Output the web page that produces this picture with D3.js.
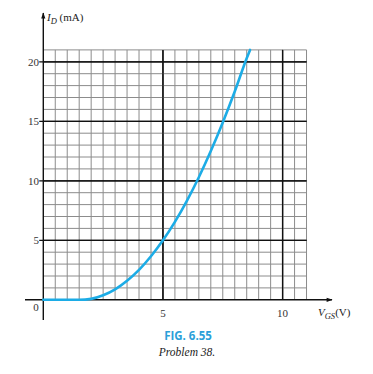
<!DOCTYPE html>
<html>
<head>
<meta charset="utf-8">
<script src="https://cdn.jsdelivr.net/npm/d3@7"></script>
<style>
  html, body { margin: 0; padding: 0; background: #fff; }
  svg { display: block; }
</style>
</head>
<body>
<svg id="chart" width="373" height="374"></svg>
<script>
// Transfer curve
const vgs = [0, 1, 1.5, 2, 2.5, 3, 3.5, 4, 4.5, 5, 5.5, 6, 6.5, 7, 7.5, 8, 8.5, 8.64];
const idMA = [0, 0, 0, 0.08, 0.38, 0.88, 1.6, 2.52, 3.66, 5.0, 6.55, 8.32, 10.3, 12.5, 14.9, 17.5, 20.3, 21];
const xTicks = [5, 10];
const yTicks = [5, 10, 15, 20];
const xGrid = d3.range(0.5, 11.01, 0.5);
const yGrid = d3.range(1, 21.01, 1);

const svg = d3.select("#chart");
const x = d3.scaleLinear().domain([0, 10]).range([43.3, 282.6]);
const y = d3.scaleLinear().domain([0, 20]).range([299.8, 61.8]);

const serif = "'Liberation Serif', 'DejaVu Serif', serif";

// grid
const g = svg.append("g");
g.selectAll("line.vx").data(xGrid).join("line")
  .attr("x1", d => x(d)).attr("x2", d => x(d))
  .attr("y1", y(0)).attr("y2", y(21))
  .attr("stroke", d => (d % 5 === 0) ? "#111" : "#8c8c8c")
  .attr("stroke-width", d => (d % 5 === 0) ? 1.3 : 1);
g.selectAll("line.hy").data(yGrid).join("line")
  .attr("x1", x(0)).attr("x2", x(11))
  .attr("y1", d => y(d)).attr("y2", d => y(d))
  .attr("stroke", d => (d % 5 === 0) ? "#111" : "#8c8c8c")
  .attr("stroke-width", d => (d % 5 === 0) ? 1.3 : 1);
// re-draw major lines on top
g.selectAll("line.mx").data(xTicks).join("line")
  .attr("x1", d => x(d)).attr("x2", d => x(d))
  .attr("y1", y(0)).attr("y2", y(21))
  .attr("stroke", "#111").attr("stroke-width", 1.3);
g.selectAll("line.my").data(yTicks).join("line")
  .attr("x1", x(-0.17)).attr("x2", x(11))
  .attr("y1", d => y(d)).attr("y2", d => y(d))
  .attr("stroke", "#111").attr("stroke-width", 1.3);

// axes
svg.append("defs").append("marker")
  .attr("id", "arr").attr("viewBox", "0 0 10 10").attr("refX", 9).attr("refY", 5)
  .attr("markerWidth", 7).attr("markerHeight", 6).attr("orient", "auto-start-reverse")
  .attr("markerUnits", "userSpaceOnUse")
  .append("path").attr("d", "M0,1.5 L10,5 L0,8.5 Z").attr("fill", "#111");

svg.append("line")
  .attr("x1", 25).attr("x2", 332).attr("y1", y(0)).attr("y2", y(0))
  .attr("stroke", "#111").attr("stroke-width", 1.4).attr("marker-end", "url(#arr)");
svg.append("line")
  .attr("x1", x(0)).attr("x2", x(0)).attr("y1", 320).attr("y2", 13)
  .attr("stroke", "#111").attr("stroke-width", 1.4).attr("marker-end", "url(#arr)");

// tick labels
svg.selectAll("text.yt").data(yTicks).join("text")
  .attr("x", 39).attr("y", d => y(d) + 3.8)
  .attr("text-anchor", "end")
  .attr("font-family", serif).attr("font-size", 11).attr("fill", "#333")
  .text(d => d);
svg.selectAll("text.xt").data(xTicks).join("text")
  .attr("x", d => x(d)).attr("y", 316.5)
  .attr("text-anchor", "middle")
  .attr("font-family", serif).attr("font-size", 11).attr("fill", "#333")
  .text(d => d);
svg.append("text").attr("x", 36).attr("y", 310.5)
  .attr("text-anchor", "middle")
  .attr("font-family", serif).attr("font-size", 11).attr("fill", "#333").text("0");

// axis titles
const yl = svg.append("text").attr("x", 47).attr("y", 21)
  .attr("font-family", serif).attr("font-size", 11).attr("fill", "#222");
yl.append("tspan").attr("font-style", "italic").text("I");
yl.append("tspan").attr("font-style", "italic").attr("font-size", 8.5).attr("dy", 2.5).text("D");
yl.append("tspan").attr("dy", -2.5).text(" (mA)");

const xl = svg.append("text").attr("x", 318).attr("y", 316)
  .attr("font-family", serif).attr("font-size", 11).attr("fill", "#222");
xl.append("tspan").attr("font-style", "italic").text("V");
xl.append("tspan").attr("font-style", "italic").attr("font-size", 8.5).attr("dy", 2.5).text("GS");
xl.append("tspan").attr("dy", -2.5).text("(V)");

// curve
const line = d3.line().x((d, i) => x(d)).y((d, i) => y(idMA[i])).curve(d3.curveMonotoneX);
svg.append("path").datum(vgs)
  .attr("d", line)
  .attr("fill", "none").attr("stroke", "#1cace6").attr("stroke-width", 2.6)
  .attr("stroke-linecap", "round");

// caption
svg.append("text").attr("x", 188).attr("y", 340).attr("text-anchor", "middle")
  .attr("font-family", "'Open Sans', 'Liberation Sans', sans-serif").attr("font-weight", "bold")
  .attr("font-size", 11.5).attr("fill", "#2b9fd9").text("FIG. 6.55");
svg.append("text").attr("x", 187).attr("y", 356).attr("text-anchor", "middle")
  .attr("font-family", serif).attr("font-style", "italic")
  .attr("font-size", 11.5).attr("fill", "#222").text("Problem 38.");
</script>
</body>
</html>
